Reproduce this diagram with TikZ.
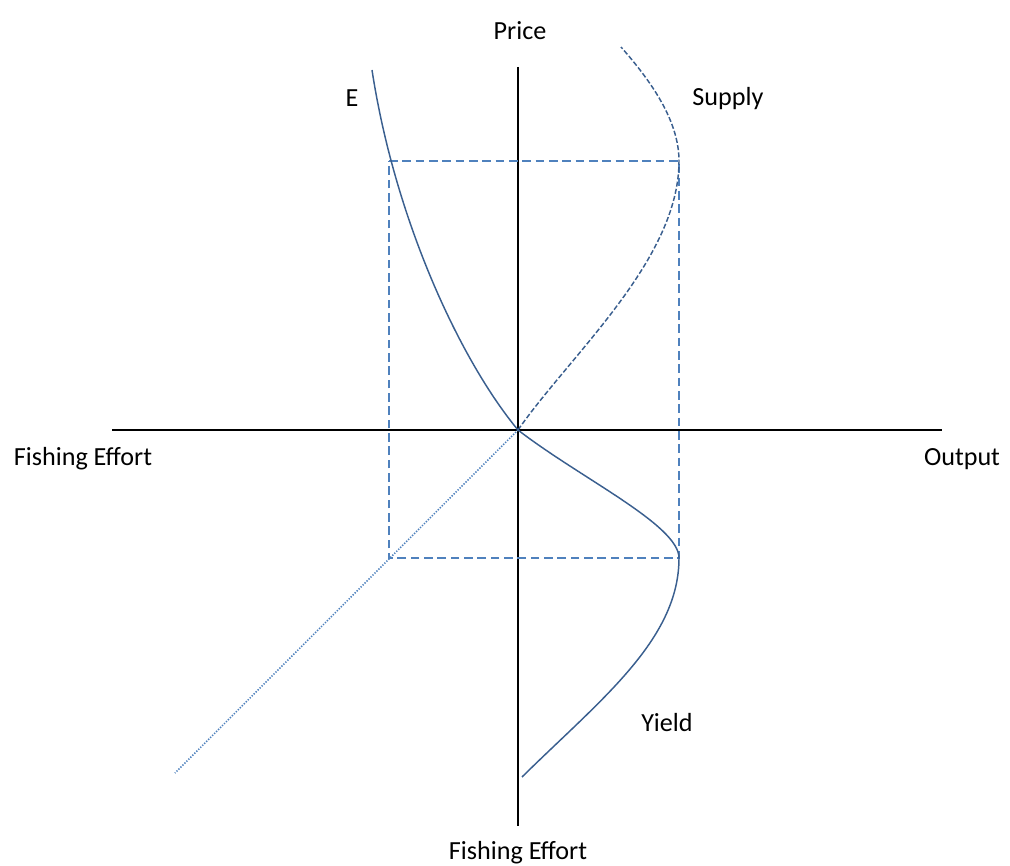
\documentclass[tikz,border=0pt]{standalone}
\usepackage{fontspec}
\setmainfont{Carlito}
\definecolor{curveblue}{HTML}{3A5F8F}
\definecolor{guideblue}{HTML}{4F81BD}

\begin{document}
\begin{tikzpicture}[x=0.75pt,y=-0.75pt,
    axis/.style={line width=1.4pt,black},
    curve/.style={line width=1.1pt,curveblue},
    guide/.style={line width=1.4pt,guideblue,dash pattern=on 6.5pt off 3.5pt},
    label/.style={anchor=base,font=\fontsize{19.6}{23}\selectfont}]
  \useasboundingbox (0,0) rectangle (1010,866);
  % Axes
  \coordinate (O) at (518,430);
  \coordinate (top) at (518,67);
  \coordinate (bottom) at (518,826);
  \coordinate (left) at (112,430);
  \coordinate (right) at (942,430);
  \draw[axis] (left) -- (right);
  \draw[axis] (top) -- (bottom);
  % Axis labels
  \node[label] (price) at (520,40) {Price};
  \node[label] (effortL) at (83,465) {Fishing Effort};
  \node[label] (output) at (962,465) {Output};
  \node[label] (effortB) at (518,859) {Fishing Effort};
  % Guide rectangle
  \coordinate (a) at (389,161);
  \coordinate (b) at (679,161);
  \coordinate (c) at (679,558);
  \coordinate (d) at (389,558);
  \draw[guide] (a) -- (b) -- (c) -- (d) -- cycle;
  % 45 degree line
  \coordinate (diag) at (175,773);
  \draw[line width=1.1pt,guideblue,dash pattern=on 1pt off 1.1pt] (O) -- (diag);
  % E curve and yield curve
  \coordinate (Etop) at (372,70);
  \coordinate (Yend) at (522,777);
  \draw[curve] (Etop) .. controls (395,220) and (460,360) .. (O)
    .. controls (580,478) and (679,525) .. (c)
    .. controls (679,640) and (600,700) .. (Yend);
  % Supply curve
  \coordinate (Stop) at (621,47);
  \draw[curve,dash pattern=on 3.8pt off 1.7pt] (O) .. controls (570,355) and (679,260) .. (b)
    .. controls (679,120) and (650,80) .. (Stop);
  % Curve labels
  \node[label] (E) at (352,107) {E};
  \node[label] (supply) at (728,106) {Supply};
  \node[label] (yield) at (667,731) {Yield};
\end{tikzpicture}
\end{document}
